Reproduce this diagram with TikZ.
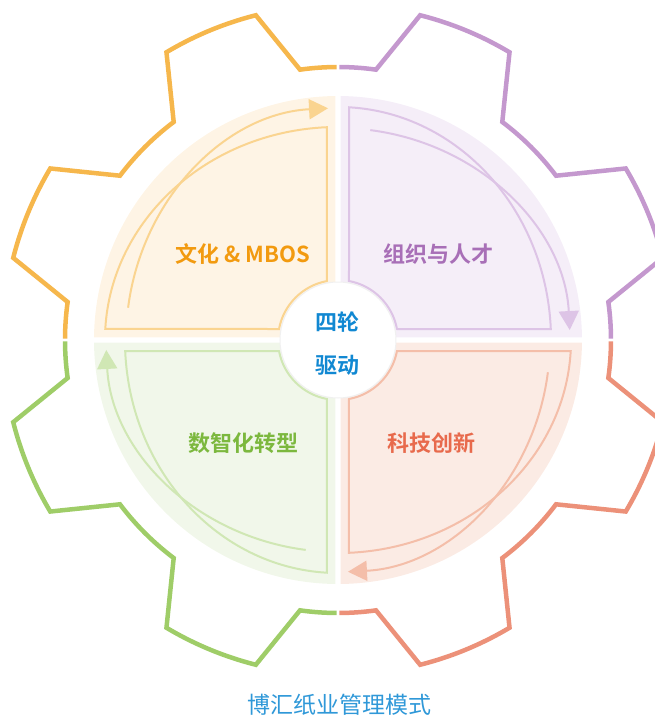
\documentclass[tikz,border=0pt]{standalone}
\usepackage{fontspec}
\usepackage{tikz}
\usetikzlibrary{arrows.meta}
\newfontfamily\cjk{Noto Sans CJK SC}[BoldFont={Noto Sans CJK SC Bold}]

\definecolor{orgear}{HTML}{F6B74C}
\definecolor{orfill}{HTML}{FEF4E5}
\definecolor{orline}{HTML}{FAD490}
\definecolor{ortext}{HTML}{F29A0F}
\definecolor{pugear}{HTML}{C498CE}
\definecolor{pufill}{HTML}{F5EEF8}
\definecolor{puline}{HTML}{DDC4E6}
\definecolor{putext}{HTML}{A86FB7}
\definecolor{grgear}{HTML}{9FCD68}
\definecolor{grfill}{HTML}{F1F7EA}
\definecolor{grline}{HTML}{D0E7B4}
\definecolor{grtext}{HTML}{7CB83E}
\definecolor{rdgear}{HTML}{EC9179}
\definecolor{rdfill}{HTML}{FBEBE4}
\definecolor{rdline}{HTML}{F4BEA9}
\definecolor{rdtext}{HTML}{E86A4C}
\definecolor{hubtext}{HTML}{1188D2}
\definecolor{titletext}{HTML}{2F98D8}

\begin{document}
\begin{tikzpicture}[x=1pt, y=1pt,
    gearline/.style={line width=4.5pt},
    quadline/.style={line width=2pt},
    flowarrow/.style={line width=2pt, -{Triangle[length=19pt, width=20pt]}},
    quadlabel/.style={font=\cjk\bfseries\fontsize{22}{26}\selectfont},
    hublabel/.style={font=\cjk\bfseries\fontsize{22}{26}\selectfont, text=hubtext}]
\useasboundingbox (-338,-376) rectangle (317,340);

% one quarter of the wheel, turned round for each colour
\begin{scope}[rotate=0]
\fill[orfill] (-2.5,2.5) -- (90.6:244) arc[start angle=90.6, end angle=179.4, radius=244] -- cycle;
\draw[quadline, orline] (-11,59) -- (-11,212.8) arc[start angle=92.7, end angle=177.04, x radius=233, y radius=213]
    -- (-59,11) arc[start angle=169.44, end angle=100.56, radius=60] -- cycle;
\draw[flowarrow, orline] (-209.9,32.3) arc[start angle=172, end angle=92.7, x radius=212, y radius=232];
\draw[gearline, orgear] (90.3:273) arc[start angle=90.3, end angle=98, radius=273] -- (104.2:335)
    arc[start angle=104.2, end angle=120.8, radius=335] -- (127:273) arc[start angle=127, end angle=143, radius=273]
    -- (149.2:335) arc[start angle=149.2, end angle=165.8, radius=335] -- (172:273) arc[start angle=172, end angle=179.7, radius=273];
\end{scope}

\begin{scope}[rotate=-90]
\fill[pufill] (-2.5,2.5) -- (90.6:244) arc[start angle=90.6, end angle=179.4, radius=244] -- cycle;
\draw[quadline, puline] (-11,59) -- (-11,212.8) arc[start angle=92.7, end angle=177.04, x radius=233, y radius=213]
    -- (-59,11) arc[start angle=169.44, end angle=100.56, radius=60] -- cycle;
\draw[flowarrow, puline] (-209.9,32.3) arc[start angle=172, end angle=92.7, x radius=212, y radius=232];
\draw[gearline, pugear] (90.3:273) arc[start angle=90.3, end angle=98, radius=273] -- (104.2:335)
    arc[start angle=104.2, end angle=120.8, radius=335] -- (127:273) arc[start angle=127, end angle=143, radius=273]
    -- (149.2:335) arc[start angle=149.2, end angle=165.8, radius=335] -- (172:273) arc[start angle=172, end angle=179.7, radius=273];
\end{scope}

\begin{scope}[rotate=180]
\fill[rdfill] (-2.5,2.5) -- (90.6:244) arc[start angle=90.6, end angle=179.4, radius=244] -- cycle;
\draw[quadline, rdline] (-11,59) -- (-11,212.8) arc[start angle=92.7, end angle=177.04, x radius=233, y radius=213]
    -- (-59,11) arc[start angle=169.44, end angle=100.56, radius=60] -- cycle;
\draw[flowarrow, rdline] (-209.9,32.3) arc[start angle=172, end angle=92.7, x radius=212, y radius=232];
\draw[gearline, rdgear] (90.3:273) arc[start angle=90.3, end angle=98, radius=273] -- (104.2:335)
    arc[start angle=104.2, end angle=120.8, radius=335] -- (127:273) arc[start angle=127, end angle=143, radius=273]
    -- (149.2:335) arc[start angle=149.2, end angle=165.8, radius=335] -- (172:273) arc[start angle=172, end angle=179.7, radius=273];
\end{scope}

\begin{scope}[rotate=90]
\fill[grfill] (-2.5,2.5) -- (90.6:244) arc[start angle=90.6, end angle=179.4, radius=244] -- cycle;
\draw[quadline, grline] (-11,59) -- (-11,212.8) arc[start angle=92.7, end angle=177.04, x radius=233, y radius=213]
    -- (-59,11) arc[start angle=169.44, end angle=100.56, radius=60] -- cycle;
\draw[flowarrow, grline] (-209.9,32.3) arc[start angle=172, end angle=92.7, x radius=212, y radius=232];
\draw[gearline, grgear] (90.3:273) arc[start angle=90.3, end angle=98, radius=273] -- (104.2:335)
    arc[start angle=104.2, end angle=120.8, radius=335] -- (127:273) arc[start angle=127, end angle=143, radius=273]
    -- (149.2:335) arc[start angle=149.2, end angle=165.8, radius=335] -- (172:273) arc[start angle=172, end angle=179.7, radius=273];
\end{scope}

% hub
\filldraw[fill=white, draw=black!6, line width=1pt] (0,0) circle (58);
\node[hublabel] (hubtop) at (0,18) {四轮};
\node[hublabel] (hubbottom) at (0,-25) {驱动};

\node[quadlabel, text=ortext] (culture) at (-95,86) {文化 \& MBOS};
\node[quadlabel, text=putext] (talent) at (101,86) {组织与人才};
\node[quadlabel, text=grtext] (digital) at (-94,-103) {数智化转型};
\node[quadlabel, text=rdtext] (tech) at (94,-103) {科技创新};

\node[font=\cjk\fontsize{23}{27}\selectfont, text=titletext] (title) at (1.5,-365) {博汇纸业管理模式};
\end{tikzpicture}
\end{document}
